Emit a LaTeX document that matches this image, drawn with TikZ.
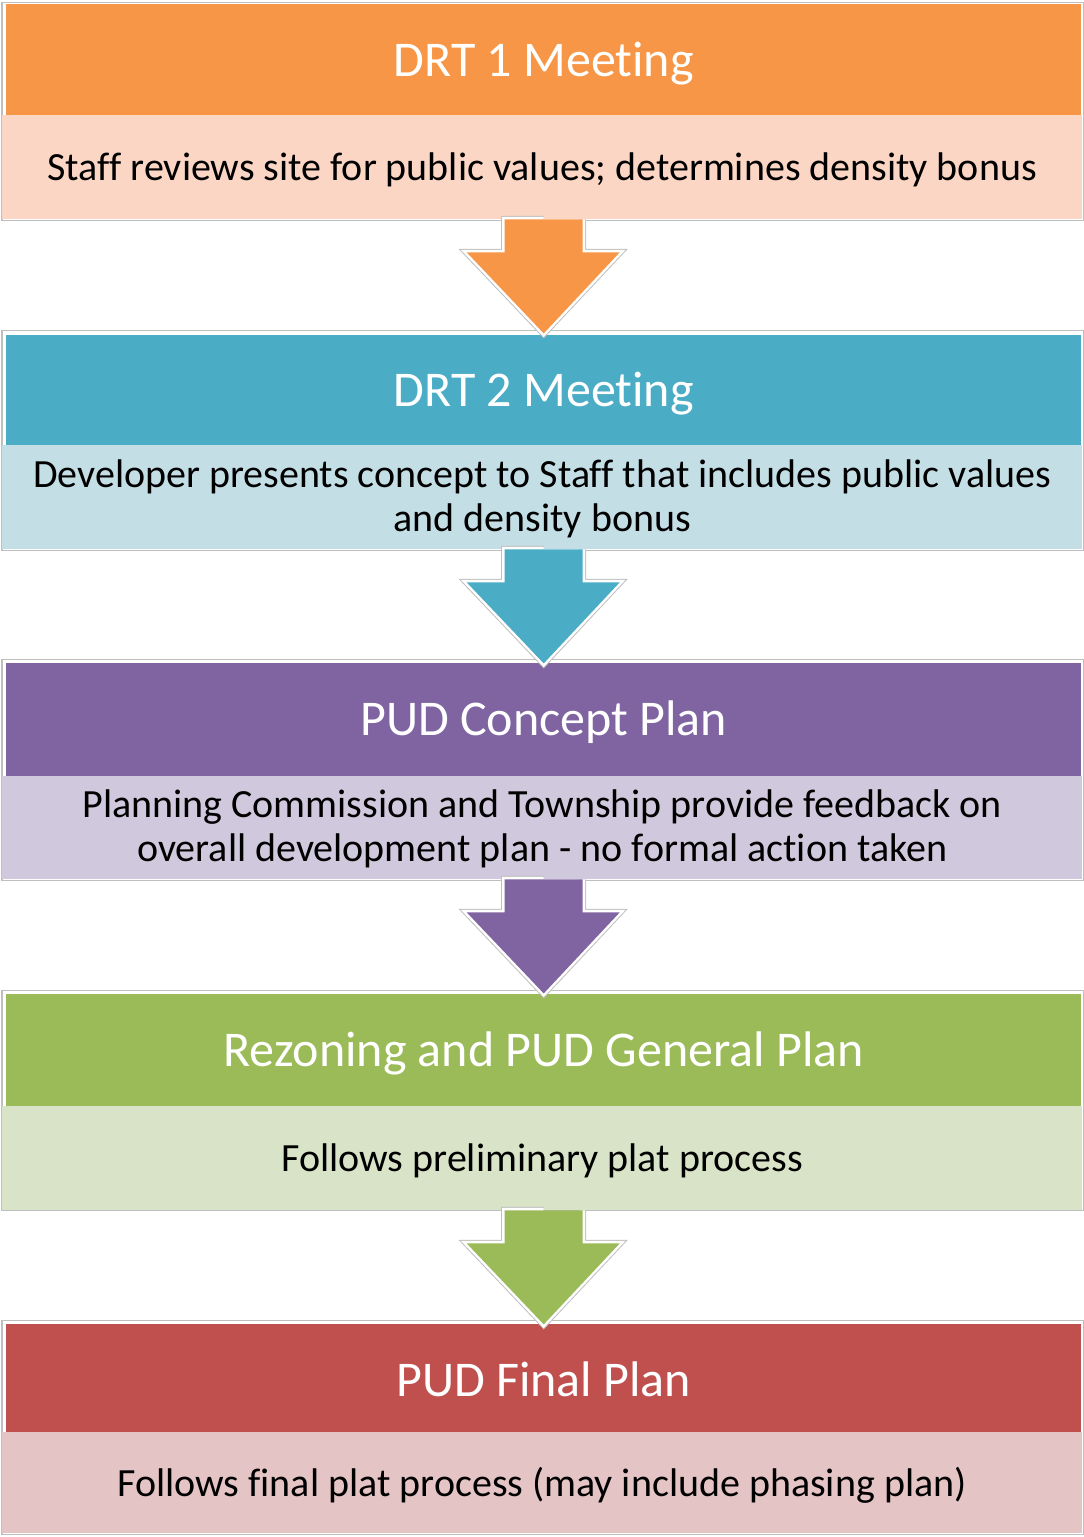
\documentclass[tikz,border=0pt]{standalone}
\usepackage{fontspec}
\setmainfont{Carlito}[RawFeature={-liga;-dlig;-clig}]
\usetikzlibrary{calc}

% stage colours: strong header tone and pale body tone
\definecolor{orHead}{HTML}{F79646}\definecolor{orBody}{HTML}{FBD6C4}
\definecolor{blHead}{HTML}{4BACC6}\definecolor{blBody}{HTML}{C4DEE6}
\definecolor{puHead}{HTML}{8064A2}\definecolor{puBody}{HTML}{D0C8DC}
\definecolor{grHead}{HTML}{9BBB59}\definecolor{grBody}{HTML}{D9E3C7}
\definecolor{rdHead}{HTML}{C0504D}\definecolor{rdBody}{HTML}{E4C4C5}
\definecolor{edgeGray}{HTML}{BFBFBF}

% centred lines of text, lowered a little inside their box
\newcommand{\stagelines}[2][4bp]{%
  \raisebox{-#1}[\height][\depth]{\begin{tabular}{@{}c@{}}#2\end{tabular}}}

\tikzset{
  framebox/.style={rectangle, draw=edgeGray, line width=1bp, inner sep=0pt,
    minimum width=1081bp, anchor=north west},
  headbox/.style={rectangle, inner sep=0pt, minimum width=1075bp, anchor=north west,
    text=white, font=\fontsize{50bp}{54bp}\selectfont},
  bodybox/.style={rectangle, inner sep=0pt, minimum width=1080bp, anchor=north west,
    text=black, font=\fontsize{40bp}{44bp}\selectfont},
  pics/flowarrow/.style={code={
    \def\arrowpath{(0,0) -- (-39,0) -- (-39,33) -- (-77,33) -- (0,114)
                   -- (76,33) -- (39,33) -- (39,0)}
    \draw[edgeGray, line width=7bp, line join=miter] \arrowpath;
    \draw[white, line width=5bp, line join=miter] \arrowpath;
    \fill[#1] \arrowpath -- cycle;
  }}
}

\begin{document}
\begin{tikzpicture}[x=1bp, y=-1bp]
\useasboundingbox (0,0) rectangle (1083,1537);

% outer frames of the five stages
\node[framebox, minimum height=217bp] (f1) at (1.5,2.5) {};
\node[framebox, minimum height=219.5bp] (f2) at (1.5,330) {};
\node[framebox, minimum height=221.5bp] (f3) at (1.5,658.5) {};
\node[framebox, minimum height=220bp] (f4) at (1.5,990) {};
\node[framebox, minimum height=214bp] (f5) at (1.5,1320) {};

% stage headings
\node[headbox, fill=orHead, minimum height=111bp] (h1) at (6,4) {\stagelines[6bp]{DRT 1 Meeting}};
\node[headbox, fill=blHead, minimum height=110bp] (h2) at (6,335) {\stagelines[5bp]{DRT 2 Meeting}};
\node[headbox, fill=puHead, minimum height=113bp] (h3) at (6,663) {\stagelines[5bp]{PUD Concept Plan}};
\node[headbox, fill=grHead, minimum height=112bp] (h4) at (6,994) {\stagelines[5bp]{Rezoning and PUD General Plan}};
\node[headbox, fill=rdHead, minimum height=108bp] (h5) at (6,1324) {\stagelines[7bp]{PUD Final Plan}};

% stage descriptions
\node[bodybox, fill=orBody, minimum height=104bp] (s1) at (2,115)
  {\stagelines{Staff reviews site for public values; determines density bonus}};
\node[bodybox, fill=blBody, minimum height=104bp] (s2) at (2,445)
  {\stagelines[3bp]{Developer presents concept to Staff that includes public values\\and density bonus}};
\node[bodybox, fill=puBody, minimum height=103bp] (s3) at (2,776)
  {\stagelines[3bp]{Planning Commission and Township provide feedback on\\overall development plan - no formal action taken}};
\node[bodybox, fill=grBody, minimum height=104bp] (s4) at (2,1106)
  {\stagelines{Follows preliminary plat process}};
\node[bodybox, fill=rdBody, minimum height=101bp] (s5) at (2,1432)
  {\stagelines[5bp]{Follows final plat process (may include phasing plan)}};

% arrows leading from each stage into the next
\pic at ($(s1.south)+(1.5,0)$) {flowarrow=orHead};
\pic at ($(s2.south)+(1.5,0)$) {flowarrow=blHead};
\pic at ($(s3.south)+(1.5,0)$) {flowarrow=puHead};
\pic at ($(s4.south)+(1.5,0)$) {flowarrow=grHead};
\end{tikzpicture}
\end{document}
